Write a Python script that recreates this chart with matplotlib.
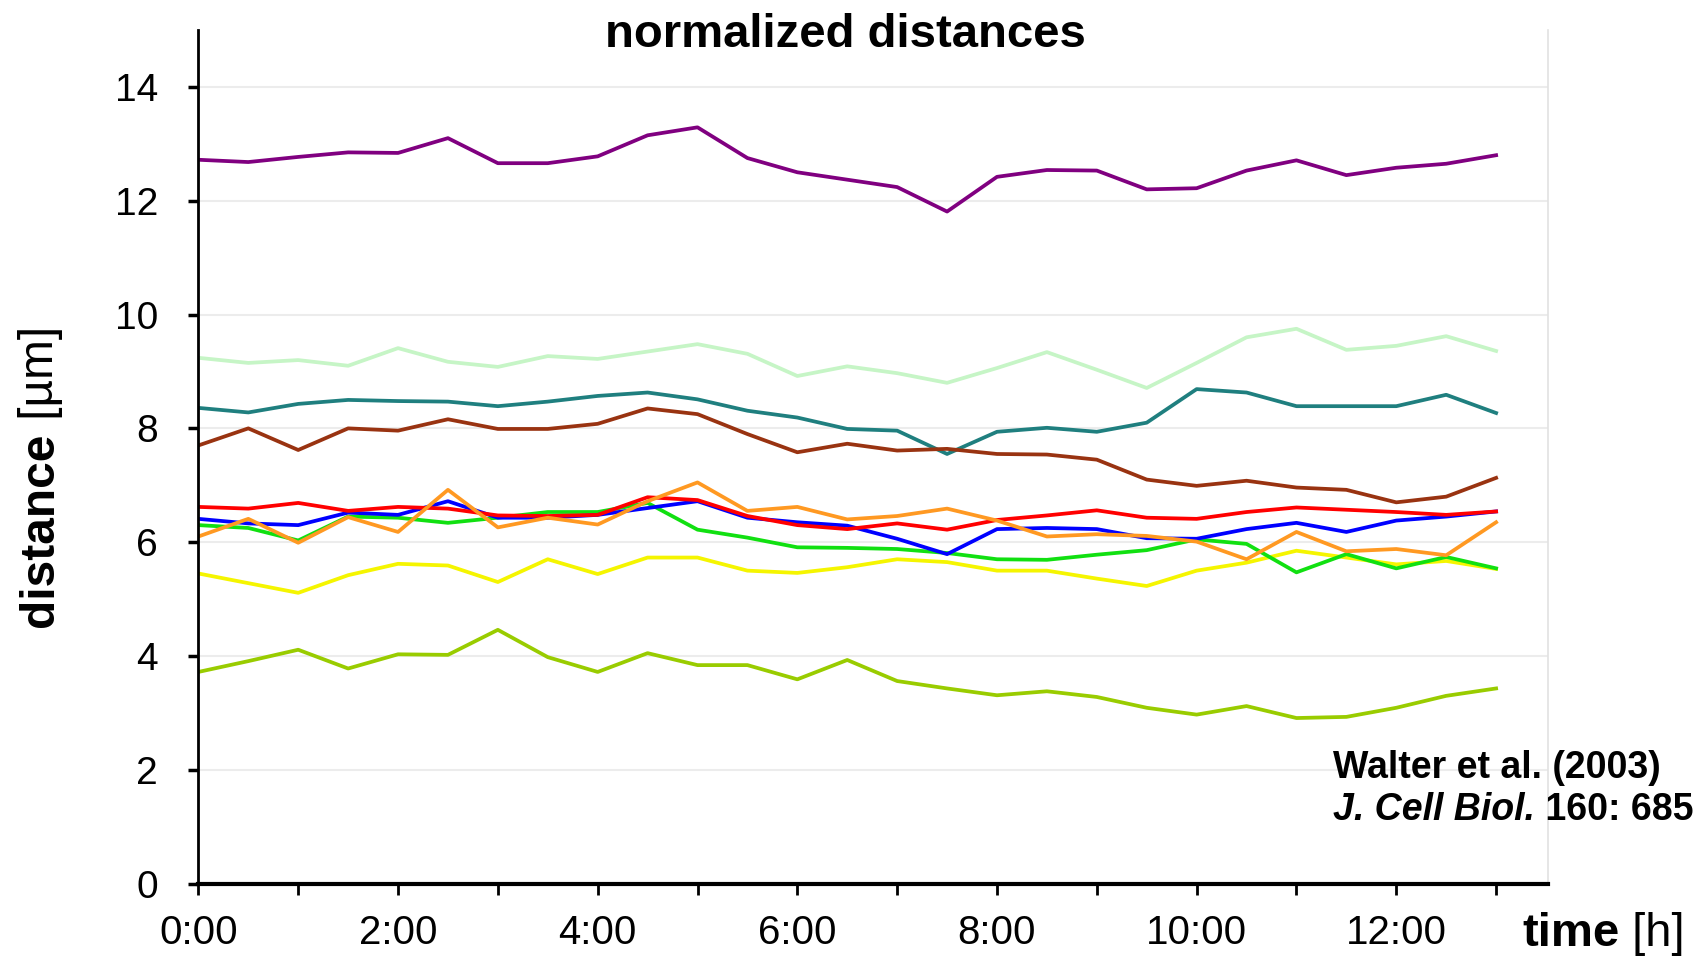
import matplotlib.pyplot as plt
from matplotlib.transforms import IdentityTransform
import numpy as np

plt.rcParams['font.family'] = ['Liberation Sans', 'DejaVu Sans']

# time points in hours (every 30 min, 0:00 .. 13:00)
hours = np.arange(0, 13.5, 0.5)

purple = [12.72, 12.68, 12.77, 12.85, 12.84, 13.10, 12.66, 12.66, 12.78, 13.15, 13.29, 12.75, 12.50, 12.37,
          12.24, 11.81, 12.42, 12.54, 12.53, 12.20, 12.22, 12.53, 12.71, 12.45, 12.58, 12.65, 12.80]
light_green = [9.24, 9.15, 9.20, 9.10, 9.41, 9.17, 9.08, 9.27, 9.22, 9.35, 9.48, 9.31, 8.92, 9.09,
               8.97, 8.80, 9.06, 9.34, 9.03, 8.71, 9.15, 9.60, 9.75, 9.38, 9.45, 9.62, 9.36]
teal = [8.36, 8.28, 8.43, 8.50, 8.48, 8.47, 8.39, 8.47, 8.57, 8.63, 8.51, 8.31, 8.19, 7.99,
        7.96, 7.55, 7.94, 8.01, 7.94, 8.10, 8.69, 8.63, 8.39, 8.39, 8.39, 8.59, 8.27]
brown = [7.70, 8.00, 7.62, 8.00, 7.96, 8.16, 7.99, 7.99, 8.08, 8.35, 8.25, 7.90, 7.58, 7.73,
         7.61, 7.64, 7.55, 7.54, 7.45, 7.10, 6.99, 7.08, 6.96, 6.92, 6.70, 6.80, 7.13]
red = [6.62, 6.59, 6.69, 6.55, 6.62, 6.59, 6.47, 6.46, 6.48, 6.79, 6.74, 6.46, 6.30, 6.23,
       6.33, 6.22, 6.39, 6.47, 6.56, 6.43, 6.41, 6.53, 6.61, 6.57, 6.53, 6.48, 6.54]
blue = [6.41, 6.33, 6.30, 6.52, 6.48, 6.72, 6.43, 6.43, 6.48, 6.60, 6.72, 6.43, 6.35, 6.29,
        6.06, 5.79, 6.23, 6.25, 6.23, 6.07, 6.06, 6.23, 6.34, 6.18, 6.38, 6.45, 6.54]
green = [6.30, 6.25, 6.03, 6.45, 6.43, 6.34, 6.43, 6.53, 6.53, 6.69, 6.22, 6.08, 5.91, 5.90,
         5.88, 5.81, 5.70, 5.69, 5.78, 5.86, 6.05, 5.97, 5.47, 5.79, 5.54, 5.74, 5.54]
orange = [6.10, 6.41, 5.99, 6.44, 6.18, 6.92, 6.26, 6.43, 6.31, 6.72, 7.05, 6.55, 6.62, 6.40,
          6.46, 6.59, 6.38, 6.10, 6.14, 6.11, 6.01, 5.70, 6.18, 5.84, 5.88, 5.77, 6.35]
yellow = [5.45, 5.28, 5.11, 5.42, 5.62, 5.59, 5.30, 5.70, 5.44, 5.73, 5.73, 5.50, 5.46, 5.56,
          5.70, 5.65, 5.50, 5.50, 5.36, 5.23, 5.50, 5.64, 5.85, 5.73, 5.61, 5.67, 5.53]
olive = [3.72, 3.91, 4.11, 3.78, 4.03, 4.02, 4.46, 3.98, 3.72, 4.05, 3.84, 3.84, 3.59, 3.93,
         3.56, 3.43, 3.31, 3.38, 3.28, 3.09, 2.97, 3.12, 2.91, 2.93, 3.09, 3.30, 3.43]

series = [
    (purple, '#800080'),
    (light_green, '#c6f5c6'),
    (teal, '#1f7f7f'),
    (brown, '#993311'),
    (olive, '#99cc00'),
    (yellow, '#f5f500'),
    (green, '#11e011'),
    (blue, '#0000ff'),
    (red, '#ff0000'),
    (orange, '#ff9922'),
]

fig = plt.figure(figsize=(17, 9.56), dpi=100)
ax = fig.add_axes([0.1167, 0.0757, 0.7939, 0.8929])

for vals, col in series:
    ax.plot(hours, vals, color=col, lw=2.7)

ax.set_xlim(0, 13.52)
ax.set_ylim(0, 15)
ax.set_xticks(range(14))
ax.set_xticklabels([f'{h}:00' if h % 2 == 0 else '' for h in range(14)])
ax.set_yticks(range(0, 15, 2))

ax.tick_params(axis='x', length=8, width=2, pad=14, labelsize=29)
ax.tick_params(axis='y', length=7, width=2.5, pad=22, labelsize=28)

ax.grid(axis='y', color='#ececec', lw=1.5)
ax.set_axisbelow(True)

ax.spines['top'].set_visible(False)
ax.spines['right'].set_color('#e2e2e2')
ax.spines['right'].set_linewidth(1.2)
ax.spines['left'].set_linewidth(2)
ax.spines['bottom'].set_linewidth(3)

fig.text(845 / 1700, 1 - 47 / 956, 'normalized distances', ha='center', va='baseline',
         fontsize=34, weight='bold')

renderer = fig.canvas.get_renderer()
H = 956


def add_parts(x, y, parts, rotation=0):
    # put text pieces of different style one after the other (pixel coords)
    for s, kw in parts:
        t = fig.text(x, y, s, transform=IdentityTransform(), rotation=rotation,
                     rotation_mode='anchor', ha='left', va='baseline', **kw)
        bb = t.get_window_extent(renderer)
        if rotation == 90:
            y = bb.y1
        else:
            x = bb.x1


add_parts(53, H - 627, [('distance', dict(fontsize=34.5, weight='bold')),
                        (' [µm]', dict(fontsize=34.5))], rotation=90)
add_parts(1522, H - 946, [('time', dict(fontsize=34, weight='bold')),
                          (' [h]', dict(fontsize=34))])
add_parts(1333, H - 778, [('Walter et al. (2003)', dict(fontsize=27, weight='bold'))])
add_parts(1333, H - 820, [('J. Cell Biol.', dict(fontsize=27, weight='bold', style='italic')),
                          (' 160: 685', dict(fontsize=27, weight='bold'))])

fig.savefig('out.png', dpi=100)
